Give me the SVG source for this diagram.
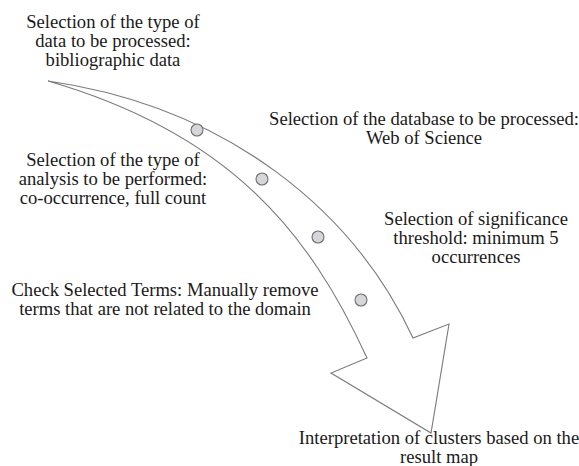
<svg xmlns="http://www.w3.org/2000/svg" width="579" height="466" viewBox="0 0 579 466">
<style>
  .arrow { fill: #ffffff; stroke: #7a7a7a; stroke-width: 1.1; stroke-linejoin: miter; }
  .dot { fill: #d6d6da; stroke: #6e6e6e; stroke-width: 1.1; }
</style>
<rect width="579" height="466" fill="#ffffff"/>
<g id="connectors">
  <path class="arrow" d="M48,81 C228,107 354,211 413,338 L449,324 L431,433 L331,373 L367,358 C309,231 228,133 48,81 Z"/>
  <circle class="dot" cx="197" cy="130" r="6"/>
  <circle class="dot" cx="262" cy="179" r="6"/>
  <circle class="dot" cx="318" cy="237" r="6"/>
  <circle class="dot" cx="361" cy="300" r="6"/>
</g>
<g font-family="Liberation Serif" font-size="18.6" fill="#1a1a1a" text-anchor="middle">
<g id="step-data-type">
  <text x="113" y="28" style="font-family:'Liberation Serif',serif">Selection of the type of</text>
  <text x="113" y="47" style="font-family:'Liberation Serif',serif">data to be processed:</text>
  <text x="113" y="66" style="font-family:'Liberation Serif',serif">bibliographic data</text>
</g>
<g id="step-database">
  <text x="424" y="125" style="font-family:'Liberation Serif',serif">Selection of the database to be processed:</text>
  <text x="424" y="144" style="font-family:'Liberation Serif',serif">Web of Science</text>
</g>
<g id="step-analysis">
  <text x="113" y="166" style="font-family:'Liberation Serif',serif">Selection of the type of</text>
  <text x="113" y="185" style="font-family:'Liberation Serif',serif">analysis to be performed:</text>
  <text x="113" y="204" style="font-family:'Liberation Serif',serif">co-occurrence, full count</text>
</g>
<g id="step-threshold">
  <text x="476" y="225" style="font-family:'Liberation Serif',serif">Selection of significance</text>
  <text x="476" y="244" style="font-family:'Liberation Serif',serif">threshold: minimum 5</text>
  <text x="476" y="263" style="font-family:'Liberation Serif',serif">occurrences</text>
</g>
<g id="step-check">
  <text x="165" y="296" style="font-family:'Liberation Serif',serif">Check Selected Terms: Manually remove</text>
  <text x="165" y="315" style="font-family:'Liberation Serif',serif">terms that are not related to the domain</text>
</g>
<g id="step-interpretation">
  <text x="439" y="444" style="font-family:'Liberation Serif',serif">Interpretation of clusters based on the</text>
  <text x="439" y="463" style="font-family:'Liberation Serif',serif">result map</text>
</g>
</g>
</svg>
